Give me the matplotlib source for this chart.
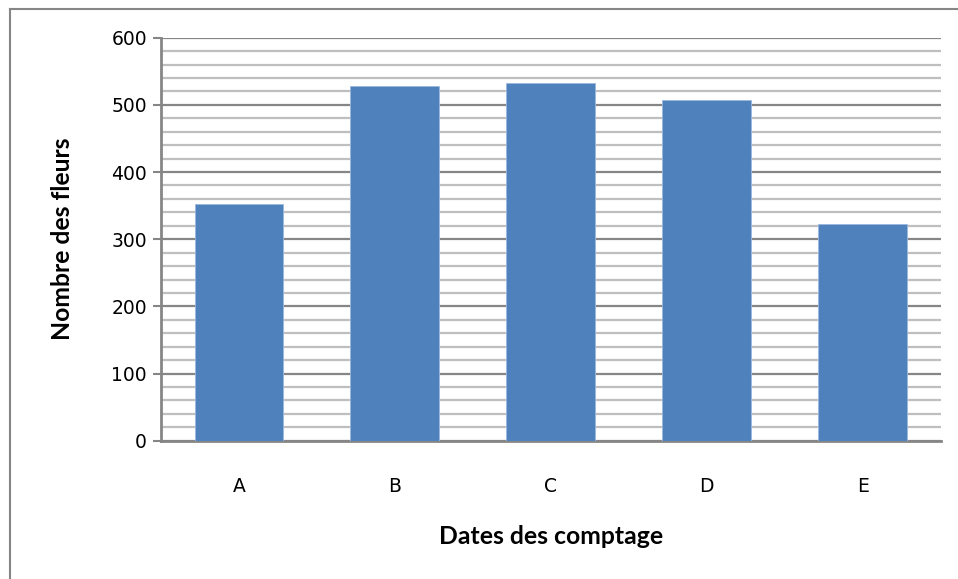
import matplotlib
matplotlib.use("Agg")
import matplotlib.pyplot as plt
from matplotlib.lines import Line2D
from matplotlib.ticker import MultipleLocator

categories = ["A", "B", "C", "D", "E"]
counts = [353, 528, 532, 507, 323]

bar_color = "#4f81bd"
major_grid = "#868686"
minor_grid = "#bfbfbf"

fig = plt.figure(figsize=(9.58, 5.79), dpi=100)
ax = fig.add_axes([161 / 958, 1 - 440.7 / 579, (940.7 - 161) / 958, (440.7 - 37.7) / 579])

x = range(len(categories))
ax.bar(x, counts, width=0.57, color=bar_color, edgecolor="#9bb7dd", linewidth=0.6, zorder=3)

ax.set_xlim(-0.5, len(categories) - 0.5)
ax.set_ylim(0, 600)
ax.yaxis.set_major_locator(MultipleLocator(100))
ax.yaxis.set_minor_locator(MultipleLocator(20))
ax.grid(which="major", axis="y", color=major_grid, linewidth=1.6, zorder=0)
ax.grid(which="minor", axis="y", color=minor_grid, linewidth=1.6, zorder=0)
ax.set_axisbelow(True)

ax.set_xticks(list(x))
ax.set_xticklabels(categories, fontsize=13.5, family="DejaVu Sans")
ax.tick_params(axis="x", length=0, pad=26)
ax.tick_params(axis="y", which="major", length=6, width=1.5, color=major_grid, pad=4, labelsize=13.5)
ax.tick_params(axis="y", which="minor", length=0)

for side in ("top", "right"):
    ax.spines[side].set_visible(False)
for side in ("left", "bottom"):
    ax.spines[side].set_color(major_grid)
    ax.spines[side].set_linewidth(2)

ax.set_ylabel("Nombre des fleurs", fontsize=17.8, fontweight="bold", family="Lato", labelpad=27)
ax.set_xlabel("Dates des comptage", fontsize=17.8, fontweight="bold", family="Lato", labelpad=21)

# outer chart frame (left and top edges)
fig.add_artist(Line2D([10 / 958, 10 / 958], [0, 1 - 9 / 579], transform=fig.transFigure,
                      color=major_grid, linewidth=1.5))
fig.add_artist(Line2D([10 / 958, 1], [1 - 9 / 579, 1 - 9 / 579], transform=fig.transFigure,
                      color=major_grid, linewidth=1.5))

fig.savefig("out.png", dpi=100)
